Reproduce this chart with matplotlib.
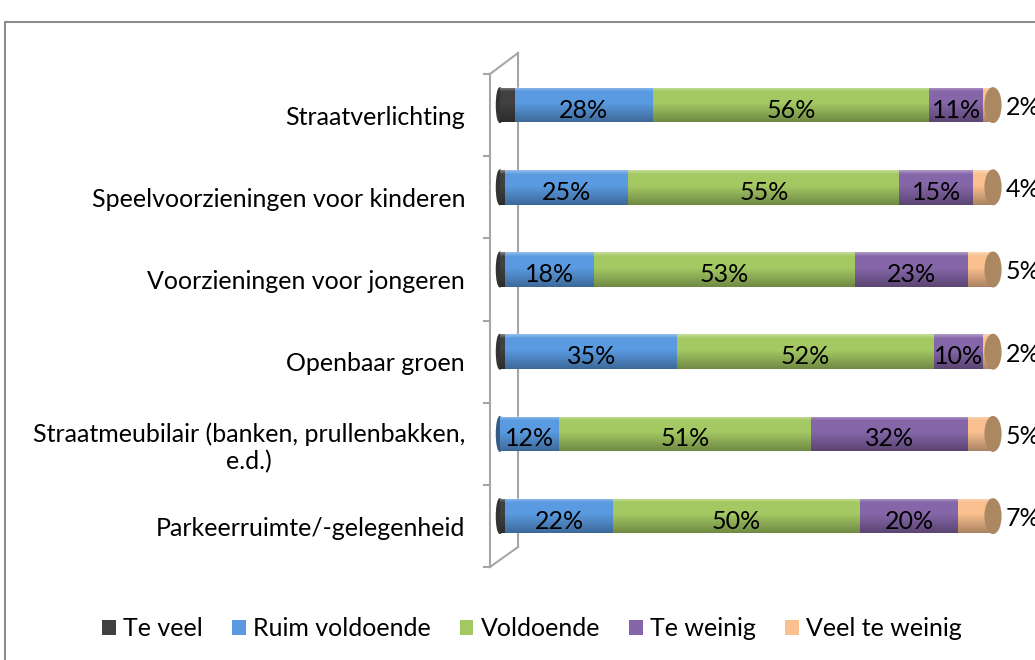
import numpy as np
import matplotlib
matplotlib.use('Agg')
import matplotlib.pyplot as plt
from matplotlib.patches import Ellipse, Patch, Rectangle
from matplotlib.lines import Line2D
from matplotlib.transforms import ScaledTranslation

plt.rcParams['font.family'] = ['Lato', 'DejaVu Sans']

categories = ['Straatverlichting', 'Speelvoorzieningen voor kinderen', 'Voorzieningen voor jongeren',
              'Openbaar groen', 'Straatmeubilair (banken, prullenbakken,\ne.d.)', 'Parkeerruimte/-gelegenheid']
series = ['Te veel', 'Ruim voldoende', 'Voldoende', 'Te weinig', 'Veel te weinig']
te_veel = [3, 1, 1, 1, 0, 1]
ruim_voldoende = [28, 25, 18, 35, 12, 22]
voldoende = [56, 55, 53, 52, 51, 50]
te_weinig = [11, 15, 23, 10, 32, 20]
veel_te_weinig = [2, 4, 5, 2, 5, 7]

colors = ['#404040', '#5a9ae0', '#a4c963', '#8566a8', '#fac090']
cap_color = '#ab8762'
W, H = 1035, 660
fs = 18


def fx(px):
    return px / W


def fy(py):
    return 1 - py / H


fig = plt.figure(figsize=(W / 100, H / 100), dpi=100)

# chart border (right/bottom edges run off the picture)
fig.patches.append(Rectangle((fx(5), fy(22) - 2), 2, 2, transform=fig.transFigure,
                             fill=False, edgecolor='#8c8c8c', lw=1.5))

# pseudo 3D category axis
gray = '#a6a6a6'
frame = [((490, 74), (490, 567)), ((518, 53), (518, 547)),
         ((490, 74), (518, 53)), ((490, 567), (518, 547))]
for k in range(7):
    yy = 74 + 82.2 * k
    frame.append(((484, yy), (490, yy)))
for (x0, y0), (x1, y1) in frame:
    fig.add_artist(Line2D([fx(x0), fx(x1)], [fy(y0), fy(y1)], color=gray, lw=1.5,
                          transform=fig.transFigure, zorder=0))

top_px, step = 64, 82.2
ax = fig.add_axes([fx(500), fy(top_px + 6 * step), fx(993) - fx(500), 6 * step / H])
ax.patch.set_alpha(0)
for s in ax.spines.values():
    s.set_visible(False)

data = np.array([te_veel, ruim_voldoende, voldoende, te_weinig, veel_te_weinig])
y = np.arange(len(categories))
h = 0.42
cap_w = 3.2

# vertical shading for the cylinders
n = 60
t = np.linspace(0, 1, n)
grad = np.zeros((n, 1, 4))
top = t < 0.12
grad[top, 0, :3] = 1
grad[top, 0, 3] = 0.35 * (1 - t[top] / 0.12)
bot = t > 0.45
grad[bot, 0, 3] = 0.32 * (t[bot] - 0.45) / 0.55

left = np.zeros(len(categories))
for i, vals in enumerate(data):
    ax.barh(y, vals, left=left, height=h, color=colors[i], zorder=2)
    left += vals

for j in range(len(categories)):
    total = data[:, j].sum()
    first = next(i for i in range(len(series)) if data[i, j] > 0)
    lc = np.array(matplotlib.colors.to_rgb(colors[first])) * (0.6 if first else 0.8)
    ax.add_patch(Ellipse((0, y[j]), cap_w * 0.45, h, color=lc, zorder=1, clip_on=False))
    ax.imshow(grad, extent=(0, total, y[j] + h / 2, y[j] - h / 2), aspect='auto',
              origin='upper', zorder=3, interpolation='bilinear')
    ax.add_patch(Ellipse((total, y[j]), cap_w, h, color=cap_color, zorder=4, clip_on=False))
    # labels inside the segments
    start = data[0, j]
    for i in range(1, 4):
        v = data[i, j]
        ax.text(start + v / 2, y[j] + 0.06, f'{v}%', ha='center', va='center',
                fontsize=fs, zorder=5)
        start += v
    ax.text(total + 2.6, y[j] + 0.03, f'{data[4, j]}%', ha='left', va='center',
            fontsize=fs, zorder=5, clip_on=False)

ax.set_xlim(0, 100)
ax.set_ylim(5.5, -0.5)
ax.set_xticks([])
ax.set_yticks(y)
ax.set_yticklabels(categories, fontsize=fs, multialignment='center')
ax.tick_params(axis='y', length=0, pad=25.2)
for lab in ax.get_yticklabels():
    lab.set_transform(lab.get_transform() + ScaledTranslation(0, -0.1, fig.dpi_scale_trans))

handles = [Patch(facecolor=c) for c in colors]
fig.legend(handles, series, loc='center', bbox_to_anchor=(fx(532), fy(629)), ncol=5,
           frameon=False, handlelength=0.55, handleheight=0.55, handletextpad=0.3,
           columnspacing=1.15, fontsize=fs)

fig.savefig('out.png', dpi=100)
